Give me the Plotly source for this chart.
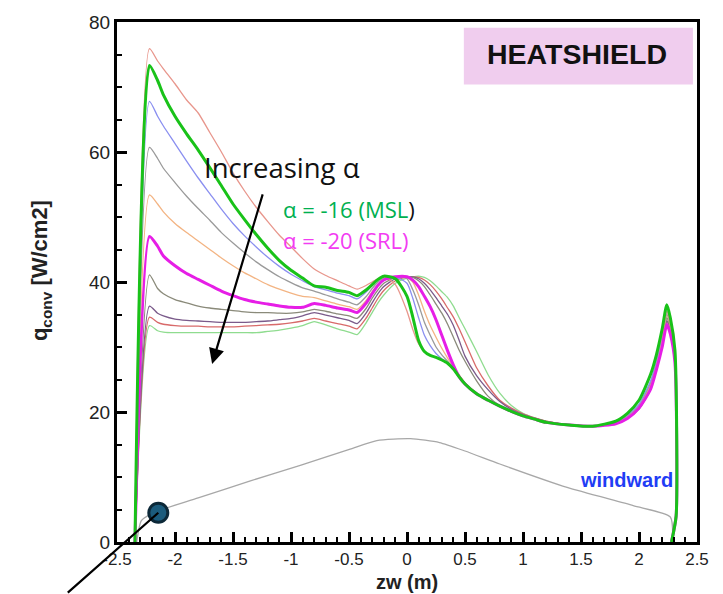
import plotly.graph_objects as go

# ---------------- data ----------------
X = [-2.345, -2.22, -2.15, -2.1, -2.0, -1.9, -1.8, -1.7, -1.6, -1.5, -1.4, -1.3, -1.2, -1.1, -1.0, -0.9, -0.8, -0.7, -0.6, -0.5,
     -0.43, -0.35, -0.3, -0.25, -0.2, -0.1, 0.0, 0.05, 0.1, 0.15, 0.2, 0.25, 0.3, 0.35, 0.4, 0.45, 0.5,
     0.6, 0.7, 0.8, 0.9, 1.0, 1.1, 1.2, 1.4, 1.6, 1.8, 1.9, 2.0, 2.1, 2.15, 2.2, 2.24, 2.27, 2.31, 2.32, 2.28]

salmon = [0, 75.9, 74.0, 72.8, 70.5, 68.0, 66.0, 63.0, 60.0, 56.8, 54.0, 51.5, 49.3, 47.2, 45.4, 43.6, 42.0, 41.0, 40.2, 39.4,
          38.9, 39.5, 40.0, 40.5, 40.8, 39.6, 35.5, 32.7, 30.5, 29.3, 28.7, 28.4, 28.0, 27.4, 26.5, 25.4, 24.4,
          22.8, 21.8, 20.9, 20.0, 19.4, 18.9, 18.5, 18.0, 17.8, 18.3, 19.2, 20.8, 24.0, 27.0, 31.0, 35.5, 33.5, 28.5, 4.0, 0]
green = [0, 73.3, 71.0, 68.8, 65.5, 62.8, 60.3, 57.6, 54.8, 52.0, 49.6, 47.3, 45.2, 43.3, 41.8, 40.6, 39.4, 39.2, 38.7, 38.4,
         37.9, 38.8, 39.6, 40.4, 40.9, 40.5, 37.8, 34.6, 31.0, 29.3, 28.7, 28.4, 28.0, 27.5, 26.6, 25.4, 24.3,
         22.8, 21.8, 20.9, 20.1, 19.4, 18.9, 18.4, 18.0, 17.8, 18.6, 19.8, 21.8, 25.8, 28.8, 32.8, 36.5, 34.5, 29.5, 4.0, 0]
blue = [0, 67.8, 65.5, 64.0, 61.3, 58.6, 56.0, 53.6, 51.2, 49.0, 47.1, 45.4, 43.8, 42.4, 41.2, 40.2, 39.3, 38.8, 38.3, 37.9,
        37.4, 38.5, 39.5, 40.3, 40.8, 40.8, 39.8, 37.5, 34.5, 31.8, 30.2, 29.0, 28.2, 27.5, 26.6, 25.4, 24.3,
        22.8, 21.8, 20.9, 20.1, 19.4, 18.9, 18.4, 18.0, 17.8, 18.4, 19.5, 21.2, 24.8, 27.8, 31.8, 35.5, 33.8, 29.0, 4.0, 0]
grey = [0, 60.7, 59.0, 57.5, 55.3, 53.2, 51.3, 49.5, 47.6, 46.0, 44.5, 43.1, 41.9, 40.8, 39.9, 39.1, 38.6, 38.0, 37.4, 36.9,
        36.5, 37.8, 39.0, 40.0, 40.6, 40.8, 40.5, 38.8, 36.5, 33.8, 31.8, 30.0, 28.8, 27.8, 26.8, 25.6, 24.4,
        22.8, 21.8, 20.9, 20.1, 19.4, 18.9, 18.4, 18.0, 17.8, 18.3, 19.3, 21.0, 24.5, 27.5, 31.5, 35.0, 33.5, 28.8, 4.0, 0]
orange = [0, 53.4, 52.0, 50.8, 49.0, 47.6, 46.3, 45.0, 43.7, 42.5, 41.4, 40.5, 39.6, 38.9, 38.3, 37.8, 37.6, 37.1, 36.6, 36.2,
          35.8, 37.2, 38.5, 39.6, 40.4, 40.8, 40.7, 40.0, 38.0, 35.5, 33.3, 31.5, 29.8, 28.3, 27.0, 25.7, 24.5,
          22.9, 21.8, 20.9, 20.1, 19.4, 18.9, 18.4, 18.0, 17.8, 18.3, 19.3, 21.0, 24.3, 27.3, 31.3, 35.0, 33.3, 28.6, 4.0, 0]
magenta = [0, 47.0, 45.5, 44.0, 42.5, 41.3, 40.4, 39.5, 38.6, 37.9, 37.3, 36.9, 36.6, 36.3, 36.1, 36.1, 36.7, 36.4, 36.0, 35.7,
           35.3, 36.8, 38.2, 39.5, 40.3, 40.8, 40.8, 40.3, 39.3, 37.8, 36.2, 34.2, 31.8, 29.4, 27.2, 25.4, 24.3,
           22.8, 21.8, 20.9, 20.1, 19.4, 18.9, 18.4, 18.0, 17.8, 18.2, 19.0, 20.6, 23.5, 26.5, 30.0, 33.5, 32.0, 27.5, 4.0, 0]
olive = [0, 41.1, 39.0, 38.2, 37.3, 36.8, 36.3, 36.0, 35.8, 35.6, 35.4, 35.3, 35.3, 35.2, 35.2, 35.4, 35.8, 35.5, 35.1, 34.8,
         34.4, 36.0, 37.5, 38.8, 39.8, 40.7, 40.8, 40.7, 40.2, 39.3, 38.0, 36.6, 35.2, 33.5, 31.5, 29.5, 27.8,
         24.8, 22.4, 21.0, 20.1, 19.5, 19.0, 18.5, 18.0, 17.8, 18.2, 19.1, 20.7, 23.8, 26.8, 30.5, 34.5, 32.8, 28.2, 4.0, 0]
purple = [0, 36.3, 35.2, 34.8, 34.3, 34.1, 34.0, 33.9, 33.8, 33.8, 33.8, 33.9, 34.0, 34.2, 34.4, 34.8, 35.3, 34.9, 34.5, 34.1,
          33.6, 35.3, 36.8, 38.2, 39.3, 40.5, 40.8, 40.8, 40.5, 39.8, 38.8, 37.6, 36.3, 35.0, 33.3, 31.0, 28.6,
          25.6, 23.4, 21.6, 20.4, 19.6, 19.0, 18.5, 18.0, 17.8, 18.2, 19.0, 20.5, 23.5, 26.5, 30.2, 34.0, 32.5, 28.0, 4.0, 0]
red = [0, 34.6, 33.8, 33.5, 33.3, 33.2, 33.2, 33.1, 33.1, 33.1, 33.2, 33.3, 33.4, 33.5, 33.7, 34.0, 34.4, 34.0, 33.6, 33.2,
       32.8, 34.5, 36.0, 37.5, 38.7, 40.2, 40.8, 40.8, 40.7, 40.3, 39.6, 38.6, 37.4, 36.0, 34.6, 32.8, 30.8,
       26.8, 24.0, 21.8, 20.6, 19.7, 19.1, 18.6, 18.0, 17.8, 18.2, 19.0, 20.5, 23.5, 26.5, 30.2, 34.0, 32.5, 28.0, 4.0, 0]
lightgreen = [0, 33.3, 32.5, 32.3, 32.2, 32.2, 32.2, 32.2, 32.2, 32.2, 32.2, 32.2, 32.4, 32.6, 32.9, 33.3, 33.9, 33.4, 32.8, 32.3,
              31.9, 33.8, 35.3, 36.8, 38.0, 39.8, 40.6, 40.8, 40.9, 40.7, 40.2, 39.4, 38.5, 37.6, 36.3, 34.5, 32.8,
              29.3, 25.7, 22.9, 21.0, 19.8, 19.1, 18.6, 18.0, 17.8, 18.3, 19.2, 20.8, 24.0, 27.0, 30.8, 34.5, 33.0, 28.3, 4.0, 0]

# geometry (shape) curve
GX = [-2.33, -2.29, -2.2, -2.15, -1.8, -1.35, -0.92, -0.49, -0.26, 0.03, 0.28, 0.5, 0.8, 1.38, 1.95, 2.27, 2.29]
GY = [0, 3.3, 4.4, 4.8, 6.8, 9.4, 11.8, 14.3, 15.6, 15.9, 15.3, 14.0, 12.0, 8.4, 5.6, 3.85, 0.3]

MARK_X = [-2.144]
MARK_Y = [4.5]

XTICKS = [-2.5, -2, -1.5, -1, -0.5, 0, 0.5, 1, 1.5, 2, 2.5]
XTICK_TEXT = ["-2.5", "-2", "-1.5", "-1", "-0.5", "0", "0.5", "1", "1.5", "2", "2.5"]
YTICKS = [0, 20, 40, 60, 80]
YTICK_TEXT = ["0", "20", "40", "60", "80"]

thin_series = [
    (lightgreen, "#8fdc8f"),
    (red, "#d86a6a"),
    (purple, "#7a5a8a"),
    (olive, "#8a8a7a"),
    (orange, "#f3b483"),
    (grey, "#9a9a9a"),
    (blue, "#8a8ff0"),
    (salmon, "#e8968c"),
]

SM = 0.6
fig = go.Figure()
fig.add_trace(go.Scatter(x=GX, y=GY, mode="lines",
                         line=dict(color="#a8a8a8", width=1.3, shape="spline", smoothing=SM)))
for ys, c in thin_series:
    fig.add_trace(go.Scatter(x=X, y=ys, mode="lines",
                             line=dict(color=c, width=1.3, shape="spline", smoothing=SM)))
fig.add_trace(go.Scatter(x=X, y=magenta, mode="lines",
                         line=dict(color="#e61ee6", width=3, shape="spline", smoothing=SM)))
fig.add_trace(go.Scatter(x=X, y=green, mode="lines",
                         line=dict(color="#19c219", width=3, shape="spline", smoothing=SM)))
fig.add_trace(go.Scatter(x=MARK_X, y=MARK_Y, mode="markers",
                         marker=dict(size=19, color="#1b5b7c", line=dict(color="#0c2838", width=3))))

font_main = "Liberation Sans, Arial, sans-serif"
text_font = "Open Sans, Liberation Sans, sans-serif"

fig.update_xaxes(range=[-2.5, 2.5], showline=True, linecolor="black", linewidth=3, mirror=True,
                 ticks="inside", ticklen=10, tickwidth=2.5, tickcolor="black",
                 tickmode="array", tickvals=XTICKS, ticktext=XTICK_TEXT,
                 minor=dict(ticks="inside", ticklen=5, tickwidth=1.5, tickcolor="black",
                            tickmode="linear", tick0=-2.5, dtick=0.1),
                 showgrid=False, zeroline=False,
                 tickfont=dict(family=font_main, size=17, color="#222"))
fig.update_yaxes(range=[0, 80], showline=True, linecolor="black", linewidth=3, mirror=True,
                 ticks="inside", ticklen=10, tickwidth=2.5, tickcolor="black",
                 tickmode="array", tickvals=YTICKS, ticktext=YTICK_TEXT,
                 minor=dict(ticks="inside", ticklen=5, tickwidth=1.5, tickcolor="black",
                            tickmode="linear", tick0=0, dtick=5),
                 showgrid=False, zeroline=False,
                 tickfont=dict(family=font_main, size=19, color="#222"))

shapes = [dict(type="rect", xref="paper", yref="paper", x0=0.598, x1=0.993, y0=0.880, y1=0.989,
               fillcolor="#f0cdee", line=dict(width=0), layer="below")]

annotations = [
    dict(xref="paper", yref="paper", x=0.793, y=0.938, text="<b>HEATSHIELD</b>", showarrow=False,
         font=dict(family=font_main, size=28.5, color="#111"), xanchor="center", yanchor="middle"),
    dict(xref="paper", yref="paper", x=0.146, y=0.7205, text="Increasing α", showarrow=False,
         font=dict(family=text_font, size=27.5, color="#111"), xanchor="left", yanchor="middle"),
    dict(xref="paper", yref="paper", x=0.2825, y=0.6407,
         text="<span style='color:#00b050'>α = -16 (MSL</span>)", showarrow=False,
         font=dict(family=text_font, size=22, color="#111"), xanchor="left", yanchor="middle"),
    dict(xref="paper", yref="paper", x=0.2825, y=0.5817, text="α = -20 (SRL)", showarrow=False,
         font=dict(family=text_font, size=22, color="#f23cf2"), xanchor="left", yanchor="middle"),
    dict(xref="paper", yref="paper", x=0.8784, y=0.1198, text="<b>windward</b>", showarrow=False,
         font=dict(family=font_main, size=20, color="#1f3df5"), xanchor="center", yanchor="middle"),
    # arrow "Increasing alpha"
    dict(xref="x", yref="y", x=-1.68, y=27.4, ax=51, ay=-171, text="", showarrow=True,
         arrowhead=2, arrowsize=1.4, arrowwidth=2.2, arrowcolor="black"),
    # pointer line to circle
    dict(xref="x", yref="y", x=MARK_X[0], y=MARK_Y[0], ax=-92, ay=86, text="", showarrow=True,
         arrowhead=0, arrowwidth=2.2, arrowcolor="black"),
    # axis titles
    dict(xref="paper", yref="paper", x=0.5, y=-0.077, text="<b>zw (m)</b>", showarrow=False,
         font=dict(family=font_main, size=20, color="#222"), xanchor="center", yanchor="middle"),
    dict(xref="paper", yref="paper", x=-0.131, y=0.521, text="<b>q<sub>conv</sub> [W/cm2]</b>", showarrow=False,
         textangle=-90, font=dict(family=font_main, size=22, color="#222"), xanchor="center", yanchor="middle"),
]

fig.update_layout(width=723, height=594, margin=dict(l=117, r=26, t=16, b=52),
                  plot_bgcolor="white", paper_bgcolor="white", showlegend=False,
                  shapes=shapes, annotations=annotations)

fig.write_html("out.html")
